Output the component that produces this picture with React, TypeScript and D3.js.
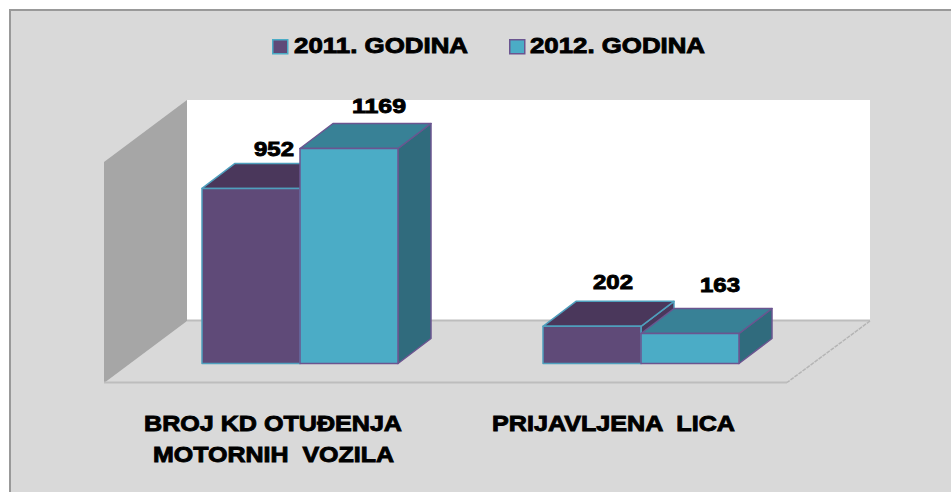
import React from "react";
import * as d3 from "d3";

const series = ["2011. GODINA", "2012. GODINA"];
const values2011 = [952, 202];
const values2012 = [1169, 163];
const categoryLines = [["BROJ KD OTUĐENJA", "MOTORNIH  VOZILA"], ["PRIJAVLJENA  LICA"]];
const frontFill = ["#5f4a78", "#4bacc6"];
const topFill = ["#4a375b", "#388196"];
const sideFill = ["#4a375b", "#306b7d"];
const strokes = ["#4f9fbd", "#6b5590"];

const W = 951, H = 492;
const y = d3.scaleLinear().domain([0, 1169]).range([363.5, 148.5]);
const groupX = [202, 543];
const barW = 98;
const dx = 33, dy = -25;
const font = "'Liberation Sans', Arial, sans-serif";

const poly = (p: number[][]) => p.map((q) => q.join(",")).join(" ");

function Bar({ x, v, i }: { x: number; v: number; i: number }) {
  const t = y(v), b = y(0), r = x + barW;
  return (
    <g stroke={strokes[i]} strokeWidth={1.5} strokeLinejoin="round">
      <polygon points={poly([[r, t], [r + dx, t + dy], [r + dx, b + dy], [r, b]])} fill={sideFill[i]} />
      <polygon points={poly([[x, t], [x + dx, t + dy], [r + dx, t + dy], [r, t]])} fill={topFill[i]} />
      <rect x={x} y={t} width={barW} height={b - t} fill={frontFill[i]} />
    </g>
  );
}

function Label({ s, x0, x1, base, size = 22 }: { s: string; x0: number; x1: number; base: number; size?: number }) {
  return (
    <text
      x={x0}
      y={base}
      textLength={x1 - x0}
      lengthAdjust="spacingAndGlyphs"
      fontSize={size}
      fontWeight={700}
      fill="#000"
      stroke="#000"
      strokeWidth={0.9}
      style={{ whiteSpace: "pre" }}
    >
      {s}
    </text>
  );
}

export default function App() {
  const valueLabels: [number, number, number, number][] = [
    [values2011[0], 254, 294, 156],
    [values2012[0], 352, 406, 113],
    [values2011[1], 593, 633, 289],
    [values2012[1], 700, 740, 292],
  ];
  const legendX = [272, 509];
  const legendText: [number, number][] = [[294, 468], [530, 705]];
  const catSpans: [number, number, number][][] = [
    [[144, 402, 431], [153, 394, 462]],
    [[492, 735, 431]],
  ];
  return (
    <svg width={W} height={H} style={{ position: "absolute", left: 0, top: 0 }} fontFamily={font}>
      <rect width={W} height={H} fill="#fff" />
      <rect x={10} y={10} width={W} height={H} fill="#d9d9d9" stroke="#999" strokeWidth={2} />
      <polygon points={poly([[187, 100], [870, 100], [870, 321], [187, 321]])} fill="#fff" />
      <polygon points={poly([[104, 162], [187, 100], [187, 321], [104, 383]])} fill="#a6a6a6" />
      <line x1={187} x2={870} y1={320.5} y2={320.5} stroke="#bdbdbd" strokeWidth={2} />
      <line x1={104} x2={787} y1={382.5} y2={382.5} stroke="#bdbdbd" strokeWidth={2} />
      <line x1={870} x2={787} y1={321} y2={382.5} stroke="#b5b5b5" strokeWidth={1.5} strokeDasharray="4 1" />
      {[0, 1].map((g) => (
        <g key={g}>
          <Bar x={groupX[g]} v={values2011[g]} i={0} />
          <Bar x={groupX[g] + barW} v={values2012[g]} i={1} />
        </g>
      ))}
      {valueLabels.map(([v, x0, x1, base]) => (
        <Label key={v} s={String(v)} x0={x0} x1={x1} base={base} size={20} />
      ))}
      {series.map((s, i) => (
        <g key={s}>
          <rect x={legendX[i] + 0.75} y={39.75} width={15} height={14} fill={frontFill[i]} stroke={i === 0 ? "#4bacc6" : "#6b5590"} strokeWidth={1.5} />
          <Label s={s} x0={legendText[i][0]} x1={legendText[i][1]} base={53} />
        </g>
      ))}
      {categoryLines.map((lines, c) =>
        lines.map((s, l) => (
          <Label key={s} s={s} x0={catSpans[c][l][0]} x1={catSpans[c][l][1]} base={catSpans[c][l][2]} />
        ))
      )}
    </svg>
  );
}
